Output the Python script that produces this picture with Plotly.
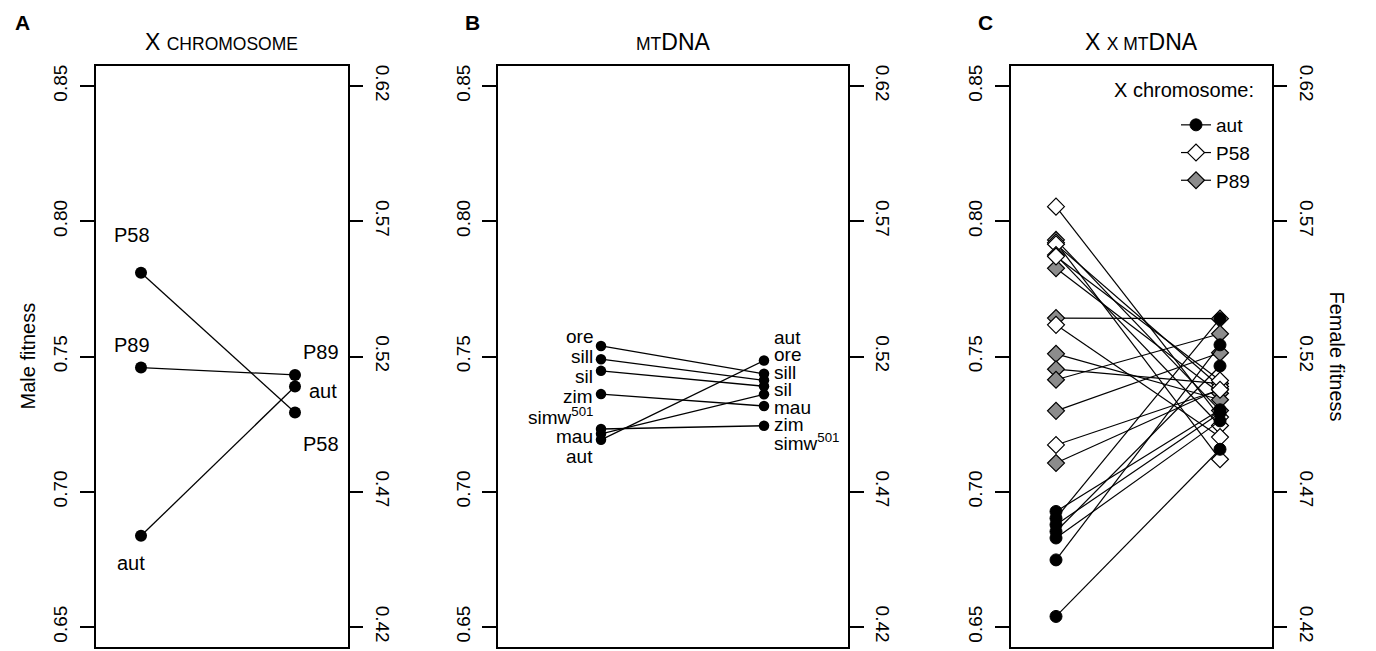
import plotly.graph_objects as go

FONT = "Liberation Sans, Arial, Helvetica, sans-serif"

# ---------------- data ----------------
male_ticks = [0.65, 0.70, 0.75, 0.80, 0.85]
female_ticks = [0.42, 0.47, 0.52, 0.57, 0.62]
male_range = [0.6426, 0.8574]
female_range = [0.4126, 0.6274]

# Panel A: X chromosome
a_names = ["P58", "P89", "aut"]
a_male = [0.7810, 0.7459, 0.6837]
a_female = [0.4993, 0.5132, 0.5089]

# Panel B: mtDNA
b_names = ["ore", "sill", "sil", "zim", "simw<sup>501</sup>", "mau", "aut"]
b_male = [0.7539, 0.7490, 0.7447, 0.7361, 0.7232, 0.7214, 0.7192]
b_female = [0.5136, 0.5112, 0.5090, 0.5017, 0.4944, 0.5060, 0.5185]

# Panel C: X x mtDNA
c_groups = ["aut", "P58", "P89"]
c_aut_male = [0.6927, 0.6902, 0.6878, 0.6853, 0.6829, 0.6748, 0.6539]
c_aut_female = [0.5003, 0.5340, 0.4991, 0.5165, 0.4962, 0.5243, 0.4857]
c_p58_male = [0.8054, 0.7921, 0.7915, 0.7875, 0.7870, 0.7617, 0.7173]
c_p58_female = [0.4976, 0.4820, 0.5089, 0.4945, 0.5111, 0.4902, 0.5077]
c_p89_male = [0.7931, 0.7826, 0.7642, 0.7510, 0.7453, 0.7414, 0.7299, 0.7106]
c_p89_female = [0.5000, 0.5064, 0.5340, 0.5040, 0.5100, 0.5284, 0.5214, 0.5080]

# ---------------- layout constants ----------------
W, H = 1376, 651
MT, MB = 66, 4
PLOT_H = H - MT - MB
boxes = {"A": (95.7, 347.7), "B": (498.0, 848.0), "C": (1010.7, 1271.7)}
dots = {"A": (141.0, 295.0), "B": (601.0, 764.0), "C": (1056.0, 1220.0)}
OFFSET = male_range[0] - female_range[0]
TICKFS = 19
LABFS = 20
BLABFS = 19
LEGFS = 19


def xrange_for(p):
    b0, b1 = boxes[p]
    d0, d1 = dots[p]
    u = d1 - d0
    return [1 - (d0 - b0) / u, 2 + (b1 - d1) / u]


def to_px(v):
    return MT + (male_range[1] - v) / (male_range[1] - male_range[0]) * PLOT_H


def from_px(px):
    return male_range[1] - (px - MT) / PLOT_H * (male_range[1] - male_range[0])


def spread(vals, gap):
    px = [to_px(v) for v in vals]
    order = sorted(range(len(px)), key=lambda i: px[i])
    clusters = [[i] for i in order]

    def layout(cl):
        c = sum(px[i] for i in cl) / len(cl)
        return [c - (len(cl) - 1) / 2 * gap + j * gap for j in range(len(cl))]

    merged = True
    while merged:
        merged = False
        for k in range(len(clusters) - 1):
            if layout(clusters[k])[-1] + gap > layout(clusters[k + 1])[0] + 1e-9:
                clusters[k] = clusters[k] + clusters[k + 1]
                del clusters[k + 1]
                merged = True
                break
    out = [0.0] * len(px)
    for cl in clusters:
        for i, p in zip(cl, layout(cl)):
            out[i] = from_px(p)
    return out


fig = go.Figure()

# Panel A
for m, f in zip(a_male, a_female):
    fig.add_trace(go.Scatter(x=[1, 2], y=[m, f + OFFSET], mode="lines+markers",
                             line=dict(color="black", width=1.3),
                             marker=dict(color="black", size=12),
                             xaxis="x", yaxis="y", showlegend=False, hoverinfo="skip"))
fig.add_trace(go.Scatter(x=[2] * len(a_female), y=a_female, mode="markers",
                         marker=dict(opacity=0), xaxis="x", yaxis="y4",
                         showlegend=False, hoverinfo="skip"))

# Panel B
for m, f in zip(b_male, b_female):
    fig.add_trace(go.Scatter(x=[1, 2], y=[m, f + OFFSET], mode="lines+markers",
                             line=dict(color="black", width=1.3),
                             marker=dict(color="black", size=10.5),
                             xaxis="x2", yaxis="y2", showlegend=False, hoverinfo="skip"))
fig.add_trace(go.Scatter(x=[2] * len(b_female), y=b_female, mode="markers",
                         marker=dict(opacity=0), xaxis="x2", yaxis="y5",
                         showlegend=False, hoverinfo="skip"))

# Panel C
c_data = {
    "aut": (c_aut_male, c_aut_female, dict(symbol="circle", color="black", size=12,
                                           line=dict(color="black", width=1)), 1),
    "P58": (c_p58_male, c_p58_female, dict(symbol="diamond", color="white", size=13,
                                           line=dict(color="black", width=1.2)), 2),
    "P89": (c_p89_male, c_p89_female, dict(symbol="diamond", color="#8c8c8c", size=13,
                                           line=dict(color="black", width=1.2)), 3),
}
for g in ["P89", "P58", "aut"]:
    males, females, mk, rank = c_data[g]
    xs, ys = [], []
    for m, f in zip(males, females):
        xs += [1, 2, None]
        ys += [m, f + OFFSET, None]
    fig.add_trace(go.Scatter(x=xs, y=ys, mode="lines+markers", name=g,
                             line=dict(color="black", width=1.2), marker=mk,
                             xaxis="x3", yaxis="y3", showlegend=True,
                             legendrank=rank, hoverinfo="skip"))
all_c_f = c_aut_female + c_p58_female + c_p89_female
fig.add_trace(go.Scatter(x=[2] * len(all_c_f), y=all_c_f, mode="markers",
                         marker=dict(opacity=0), xaxis="x3", yaxis="y6",
                         showlegend=False, hoverinfo="skip"))

# ---------------- axes ----------------
LW = 1.5


def xaxis(p):
    b0, b1 = boxes[p]
    return dict(domain=[b0 / W, b1 / W], range=xrange_for(p), showline=True, mirror=True,
                linecolor="black", linewidth=LW, ticks="", showticklabels=False,
                showgrid=False, zeroline=False, fixedrange=True)


def yleft(anchor):
    return dict(anchor=anchor, range=male_range, tickvals=male_ticks,
                ticktext=[f"{v:.2f}" for v in male_ticks], ticks="outside", ticklen=14,
                tickwidth=LW, tickcolor="black", tickangle=-90, showline=True,
                linecolor="black", linewidth=LW, showgrid=False, zeroline=False,
                ticklabelstandoff=5,
                tickfont=dict(size=TICKFS, color="black", family=FONT), domain=[0, 1])


def yright(anchor, over):
    return dict(anchor=anchor, overlaying=over, side="right", range=female_range,
                tickvals=female_ticks, ticktext=[f"{v:.2f}" for v in female_ticks],
                ticks="outside", ticklen=14, tickwidth=LW, tickcolor="black",
                tickangle=90, showline=True, linecolor="black", linewidth=LW,
                showgrid=False, zeroline=False, ticklabelstandoff=5,
                tickfont=dict(size=TICKFS, color="black", family=FONT))


fig.update_layout(
    width=W, height=H, margin=dict(l=0, r=0, t=MT, b=MB),
    paper_bgcolor="white", plot_bgcolor="white",
    font=dict(family=FONT, color="black"),
    xaxis=xaxis("A"), xaxis2=xaxis("B"), xaxis3=xaxis("C"),
    yaxis=yleft("x"), yaxis2=yleft("x2"), yaxis3=yleft("x3"),
    yaxis4=yright("x", "y"), yaxis5=yright("x2", "y2"), yaxis6=yright("x3", "y3"),
    legend=dict(x=1176 / W, xanchor="left", y=1 - (106 - MT) / PLOT_H, yanchor="top",
                font=dict(size=LEGFS, family=FONT), bgcolor="rgba(0,0,0,0)",
                itemwidth=30, tracegroupgap=0),
)

ann = []
# Panel letters
for letter, px in [("A", 22), ("B", 472), ("C", 985)]:
    ann.append(dict(text=f"<b>{letter}</b>", x=px / W, y=1 + (MT - 22) / PLOT_H,
                    xref="paper", yref="paper", showarrow=False,
                    font=dict(size=21, family=FONT), xanchor="center", yanchor="middle"))
# Titles
SC = "font-size:17.5px"
titles = {
    "A": f"X <span style='{SC}'>CHROMOSOME</span>",
    "B": f"<span style='{SC}'>MT</span>DNA",
    "C": f"X <span style='{SC}'>X MT</span>DNA",
}
for p, t in titles.items():
    b0, b1 = boxes[p]
    ann.append(dict(text=t, x=(b0 + b1) / 2 / W, y=1 + (MT - 42) / PLOT_H,
                    xref="paper", yref="paper", showarrow=False,
                    font=dict(size=23, family=FONT), xanchor="center", yanchor="middle"))
# Axis titles
ann.append(dict(text="Male fitness", x=27 / W, y=0.5, xref="paper", yref="paper",
                showarrow=False, textangle=-90, font=dict(size=20, family=FONT),
                xanchor="center", yanchor="middle"))
ann.append(dict(text="Female fitness", x=1337 / W, y=0.5, xref="paper", yref="paper",
                showarrow=False, textangle=90, font=dict(size=20, family=FONT),
                xanchor="center", yanchor="middle"))

# Panel A labels
a_left_off = {"P58": (-9, 38), "P89": (-9, 23), "aut": (-10, -27)}
a_right_off = {"P89": (26, 23), "aut": (28, -4), "P58": (26, -32)}
for n, m, f in zip(a_names, a_male, a_female):
    dx, dy = a_left_off[n]
    ann.append(dict(text=n, x=1, y=m, xref="x", yref="y", xshift=dx, yshift=dy,
                    showarrow=False, font=dict(size=LABFS, family=FONT)))
    dx, dy = a_right_off[n]
    ann.append(dict(text=n, x=2, y=f + OFFSET, xref="x", yref="y", xshift=dx, yshift=dy,
                    showarrow=False, font=dict(size=LABFS, family=FONT)))

# Panel B labels (spread to avoid overlap)
bl = spread(b_male, 20)
br = spread([f + OFFSET for f in b_female], 17.5)
for n, yl, yr in zip(b_names, bl, br):
    ann.append(dict(text=n, x=1, y=yl, xref="x2", yref="y2", xshift=-6, xanchor="right",
                    showarrow=False, font=dict(size=BLABFS, family=FONT)))
    ann.append(dict(text=n, x=2, y=yr, xref="x2", yref="y2", xshift=8, xanchor="left",
                    showarrow=False, font=dict(size=BLABFS, family=FONT)))

# Legend heading
ann.append(dict(text="X chromosome:", x=1256 / W, y=1 - (90 - MT) / PLOT_H,
                xref="paper", yref="paper", xanchor="right", yanchor="middle",
                showarrow=False, font=dict(size=LABFS, family=FONT)))

fig.update_layout(annotations=ann)
fig.write_html("out.html")
